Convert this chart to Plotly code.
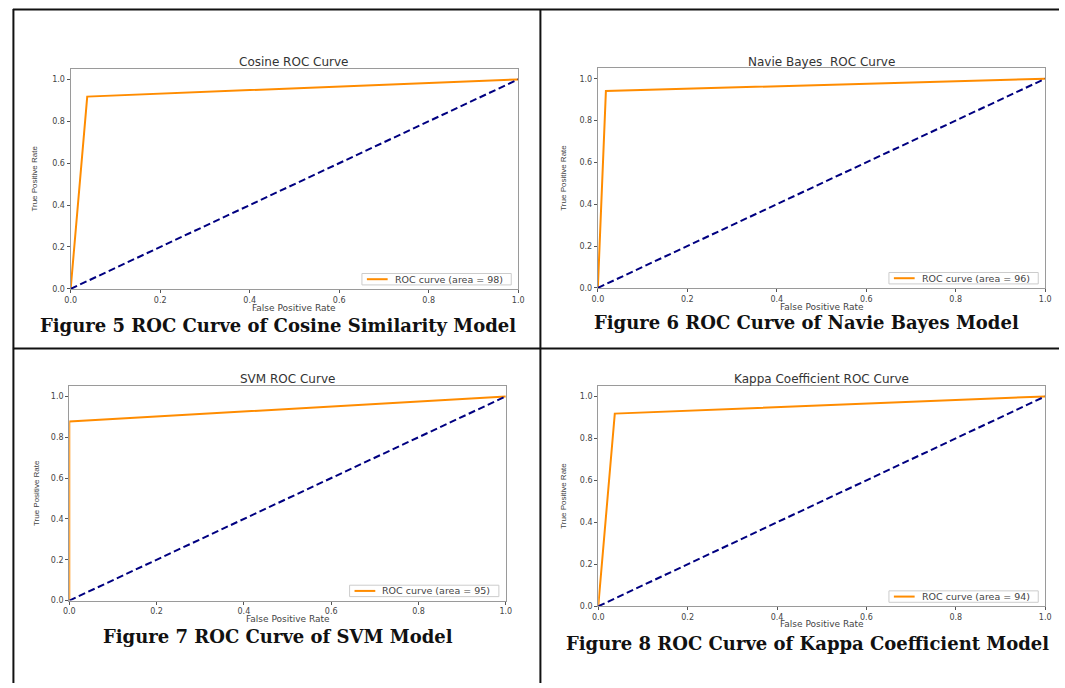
import plotly.graph_objects as go

W, H = 1065, 688

# ---------------- data ----------------
titles = ["Cosine ROC Curve", "Navie Bayes  ROC Curve", "SVM ROC Curve", "Kappa Coefficient ROC Curve"]
captions = ["Figure 5 ROC Curve of Cosine Similarity Model",
            "Figure 6 ROC Curve of Navie Bayes Model",
            "Figure 7 ROC Curve of SVM Model",
            "Figure 8 ROC Curve of Kappa Coefficient Model"]
areas = ["98", "96", "95", "94"]

cosine_fpr = [0.0, 0.037, 1.0]
cosine_tpr = [0.0, 0.918, 1.0]
nb_fpr = [0.0, 0.018, 1.0]
nb_tpr = [0.0, 0.941, 1.0]
svm_fpr = [0.0, 0.0, 1.0]
svm_tpr = [0.0, 0.877, 1.0]
kappa_fpr = [0.0, 0.037, 1.0]
kappa_tpr = [0.0, 0.918, 1.0]
chance_x = [0.0, 1.0]
chance_y = [0.0, 1.0]

tick_vals = [0.0, 0.2, 0.4, 0.6, 0.8, 1.0]
tick_text = ["0.0", "0.2", "0.4", "0.6", "0.8", "1.0"]

curves = [(cosine_fpr, cosine_tpr), (nb_fpr, nb_tpr), (svm_fpr, svm_tpr), (kappa_fpr, kappa_tpr)]

# ---------------- layout (pixels) ----------------
# left, right, y pixel at 0, y pixel at 1.0
boxes = [(65.4, 518.0, 291.0, 80.0),
         (598.6, 1051.0, 290.0, 79.3),
         (64.0, 505.5, 605.0, 399.3),
         (599.0, 1051.0, 610.7, 399.3)]
title_y = [62, 62, 382, 382]
xlabel_y = [310, 309, 623.5, 629]
ylabel_x = [29, 563, 31, 563]
caption_pos = [(275, 328), (810, 325), (275, 641), (811, 648)]

ORANGE = "#ff8c00"


def px(x):
    return x / W


def py(y):
    return 1 - y / H


fig = go.Figure()
layout = dict(
    width=W, height=H,
    margin=dict(l=0, r=0, t=0, b=0),
    paper_bgcolor="white", plot_bgcolor="white",
    showlegend=False,
)
annotations = []
shapes = []

for i, ((fx, ty), (l, r, y0, y1)) in enumerate(zip(curves, boxes)):
    n = "" if i == 0 else str(i + 1)
    xa, ya = "x" + n, "y" + n
    top = y0 - 1.05 * (y0 - y1)
    fig.add_trace(go.Scatter(x=fx, y=ty, mode="lines", xaxis=xa, yaxis=ya,
                             line=dict(color=ORANGE, width=2),
                             name="ROC curve (area = %s)" % areas[i],
                             hoverinfo="skip"))
    fig.add_trace(go.Scatter(x=chance_x, y=chance_y, mode="lines", xaxis=xa, yaxis=ya,
                             line=dict(color="navy", width=2, dash="7px,3.5px"),
                             hoverinfo="skip"))
    axcommon = dict(showgrid=False, zeroline=False, showline=True, mirror=True,
                    linecolor="#9a9a9a", linewidth=1.2,
                    ticks="outside", ticklen=3, tickwidth=1, tickcolor="#555",
                    tickvals=tick_vals, ticktext=tick_text,
                    tickfont=dict(family="DejaVu Sans", size=8, color="#444"),
                    fixedrange=True)
    layout["xaxis" + n] = dict(axcommon, domain=[px(l), px(r)], range=[0, 1],
                               anchor=ya)
    layout["yaxis" + n] = dict(axcommon, domain=[py(y0), py(top)], range=[0, 1.05],
                               anchor=xa)
    cx = (l + r) / 2
    annotations.append(dict(text=titles[i], x=px(cx), y=py(title_y[i]), xref="paper", yref="paper",
                            showarrow=False, xanchor="center", yanchor="middle",
                            font=dict(family="DejaVu Sans", size=12, color="#333")))
    annotations.append(dict(text="False Positive Rate", x=px(cx), y=py(xlabel_y[i]),
                            xref="paper", yref="paper", showarrow=False,
                            xanchor="center", yanchor="middle",
                            font=dict(family="DejaVu Sans", size=9, color="#444")))
    annotations.append(dict(text="True Positive Rate", x=px(ylabel_x[i]), y=py((y0 + top) / 2),
                            xref="paper", yref="paper", showarrow=False, textangle=-90,
                            xanchor="center", yanchor="middle",
                            font=dict(family="Liberation Sans", size=8, color="#444")))
    cxp, cyp = caption_pos[i]
    annotations.append(dict(text="<b>%s</b>" % captions[i], x=px(cxp), y=py(cyp),
                            xref="paper", yref="paper", showarrow=False,
                            xanchor="center", yanchor="middle",
                            font=dict(family="DejaVu Serif", size=18, color="#111")))

    # legend box (lower right of each axes)
    lb_r = r - 7
    lb_b = y0 - 4
    lb_l = lb_r - 151
    lb_t = lb_b - 11.5
    shapes.append(dict(type="rect", xref="paper", yref="paper",
                       x0=px(lb_l), x1=px(lb_r), y0=py(lb_b), y1=py(lb_t),
                       line=dict(color="#cccccc", width=1), fillcolor="white", layer="above"))
    ly = (lb_b + lb_t) / 2
    shapes.append(dict(type="line", xref="paper", yref="paper",
                       x0=px(lb_l + 5), x1=px(lb_l + 26), y0=py(ly), y1=py(ly),
                       line=dict(color=ORANGE, width=2), layer="above"))
    annotations.append(dict(text="ROC curve (area = %s)" % areas[i], x=px(lb_l + 31), y=py(ly),
                            xref="paper", yref="paper", showarrow=False,
                            xanchor="left", yanchor="middle",
                            font=dict(family="DejaVu Sans", size=9.5, color="#444")))

# table borders
line_style = dict(color="#111", width=2)
for (x0, y0_, x1, y1_) in [(7, 9.5, W, 9.5), (7.5, 9, 7.5, H), (540.5, 9, 540.5, H), (7, 351, W, 351)]:
    shapes.append(dict(type="line", xref="paper", yref="paper",
                       x0=px(x0), y0=py(y0_), x1=px(x1), y1=py(y1_), line=line_style))

layout["annotations"] = annotations
layout["shapes"] = shapes
fig.update_layout(**layout)
fig.write_html("out.html", config={"displayModeBar": False},
               post_script="document.body.style.margin='0';document.body.style.overflow='hidden';")
